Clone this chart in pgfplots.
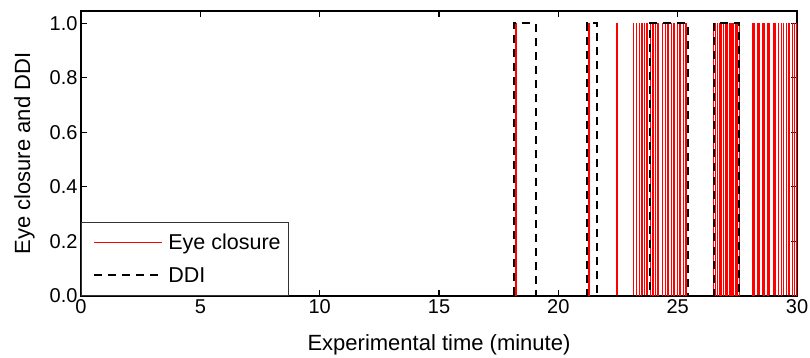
\documentclass[border=0pt]{standalone}
\usepackage{pgfplots}
\pgfplotsset{compat=1.18}
\usepackage{fontspec}
\setmainfont{Liberation Sans}
\pgfplotstableread{
x y
0 0
18.20 1
18.25 0
21.24 1
21.30 0
22.45 1
22.48 0
23.13 1
23.16 0
23.25 1
23.28 0
23.38 1
23.41 0
23.50 1
23.53 0
23.59 1
23.62 0
23.71 1
23.74 0
23.84 1
23.87 0
23.96 1
23.99 0
24.05 1
24.08 0
24.17 1
24.20 0
24.34 1
24.37 0
24.47 1
24.50 0
24.59 1
24.62 0
24.72 1
24.75 0
24.84 1
24.87 0
24.97 1
25.00 0
25.09 1
25.12 0
25.22 1
25.25 0
25.34 1
25.37 0
26.48 1
26.51 0
26.56 1
26.59 0
26.65 1
26.68 0
26.73 1
26.76 0
26.81 1
26.84 0
26.90 1
26.93 0
26.98 1
27.01 0
27.06 1
27.09 0
27.15 1
27.18 0
27.23 1
27.26 0
27.31 1
27.34 0
27.40 1
27.43 0
27.48 1
27.51 0
27.57 1
27.60 0
28.11 1
28.14 0
28.19 1
28.22 0
28.32 1
28.35 0
28.40 1
28.43 0
28.53 1
28.56 0
28.61 1
28.64 0
28.74 1
28.77 0
28.82 1
28.85 0
28.99 1
29.02 0
29.07 1
29.10 0
29.20 1
29.23 0
29.33 1
29.36 0
29.41 1
29.44 0
29.54 1
29.57 0
29.66 1
29.69 0
29.79 1
29.82 0
29.87 1
29.90 0
29.96 1
29.99 0
30 0
}\eyeclosure
\pgfplotstableread{
x y
0 0
18.14 1
19.05 0
21.18 1
21.63 0
23.84 1
25.42 0
26.52 1
27.58 0
30 0
}\ddi
\begin{document}
\begin{tikzpicture}
\begin{axis}[
  scale only axis,
  width=716pt, height=285pt,
  xmin=0, xmax=30, ymin=0, ymax=1.045,
  xtick={0,5,...,30},
  ytick={0,0.2,0.4,0.6,0.8,1.0},
  yticklabel style={/pgf/number format/.cd, fixed, fixed zerofill, precision=1},
  /pgf/number format/assume math mode=true,
  tick label style={font=\fontsize{20}{22}\selectfont},
  label style={font=\fontsize{22}{26}\selectfont},
  xlabel={Experimental time (minute)},
  ylabel={Eye closure and DDI},
  xlabel style={yshift=-14pt},
  ylabel style={yshift=8pt},
  axis line style={line width=1.3pt},
  major tick style={line width=1.1pt, black},
  major tick length=6pt,
  tick align=inside,
  legend cell align=left,
  legend image code/.code={\path[draw=none,fill=none] (-7pt,0pt) -- (72pt,0pt);\draw[#1] (0pt,0pt) -- (68pt,0pt);},
  legend style={at={(0,0)}, anchor=south west, draw=black!80, line width=0.8pt,
    font=\fontsize{21.5}{25}\selectfont, inner xsep=6pt, inner ysep=10pt,
    row sep=12pt, fill=white},
]
\addlegendimage{color=red, solid, line width=0.8pt}
\addlegendentry{Eye closure}
\addlegendimage{color=black, line width=2pt, dash pattern=on 8pt off 6pt}
\addlegendentry{DDI}
\addplot[forget plot, const plot, color=red, line width=0.8pt] table[x=x,y=y] {\eyeclosure};
\addplot[forget plot, const plot, color=black, line width=2pt, dash pattern=on 8pt off 6pt] table[x=x,y=y] {\ddi};
\end{axis}
\pgfresetboundingbox
\path (-81pt,-62pt) rectangle (729pt,296pt);
\end{tikzpicture}
\end{document}
